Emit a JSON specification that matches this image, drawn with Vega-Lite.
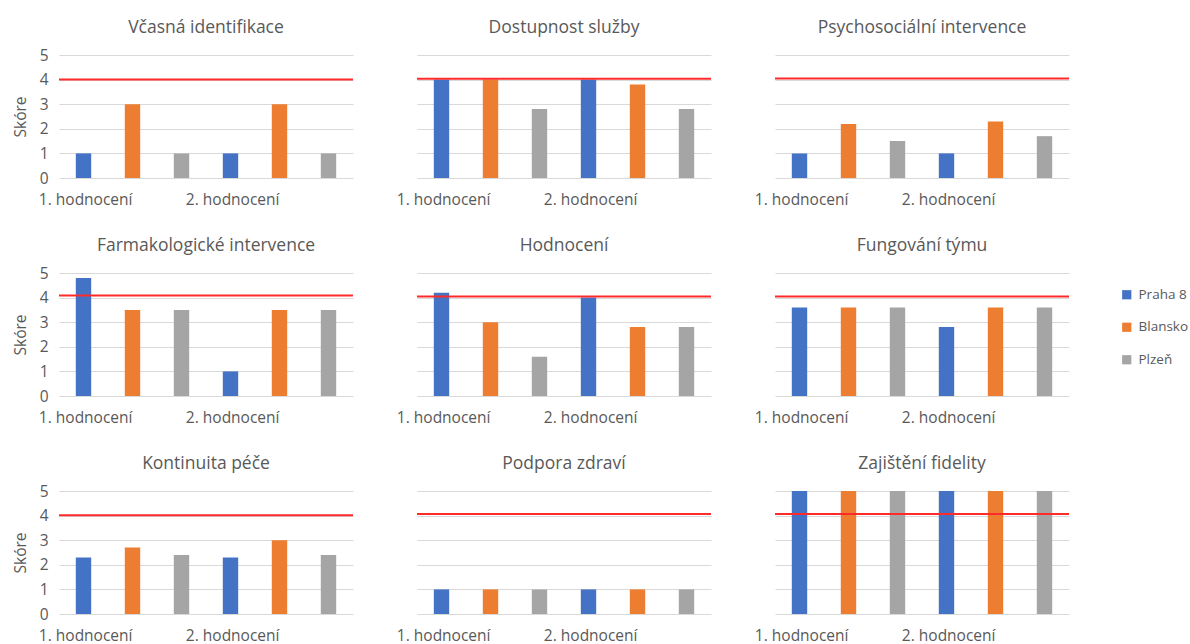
{
  "$schema": "https://vega.github.io/schema/vega-lite/v6.json",
  "background": "white",
  "padding": {"left": 13, "top": 18, "right": 5, "bottom": 5},
  "datasets": {
    "cile": [
      {"oblast": "Včasná identifikace", "cil": 4.0},
      {"oblast": "Dostupnost služby", "cil": 4.03},
      {"oblast": "Psychosociální intervence", "cil": 4.04},
      {"oblast": "Farmakologické intervence", "cil": 4.09},
      {"oblast": "Hodnocení", "cil": 4.04},
      {"oblast": "Fungování týmu", "cil": 4.04},
      {"oblast": "Kontinuita péče", "cil": 4.01},
      {"oblast": "Podpora zdraví", "cil": 4.07},
      {"oblast": "Zajištění fidelity", "cil": 4.07}
    ]
  },
  "data": {
    "values": [
      {"oblast": "Včasná identifikace", "kolo": "1. hodnocení", "mesto": "Praha 8", "skore": 1},
      {"oblast": "Včasná identifikace", "kolo": "1. hodnocení", "mesto": "Blansko", "skore": 3},
      {"oblast": "Včasná identifikace", "kolo": "1. hodnocení", "mesto": "Plzeň", "skore": 1},
      {"oblast": "Včasná identifikace", "kolo": "2. hodnocení", "mesto": "Praha 8", "skore": 1},
      {"oblast": "Včasná identifikace", "kolo": "2. hodnocení", "mesto": "Blansko", "skore": 3},
      {"oblast": "Včasná identifikace", "kolo": "2. hodnocení", "mesto": "Plzeň", "skore": 1},

      {"oblast": "Dostupnost služby", "kolo": "1. hodnocení", "mesto": "Praha 8", "skore": 4},
      {"oblast": "Dostupnost služby", "kolo": "1. hodnocení", "mesto": "Blansko", "skore": 4},
      {"oblast": "Dostupnost služby", "kolo": "1. hodnocení", "mesto": "Plzeň", "skore": 2.8},
      {"oblast": "Dostupnost služby", "kolo": "2. hodnocení", "mesto": "Praha 8", "skore": 4},
      {"oblast": "Dostupnost služby", "kolo": "2. hodnocení", "mesto": "Blansko", "skore": 3.8},
      {"oblast": "Dostupnost služby", "kolo": "2. hodnocení", "mesto": "Plzeň", "skore": 2.8},

      {"oblast": "Psychosociální intervence", "kolo": "1. hodnocení", "mesto": "Praha 8", "skore": 1},
      {"oblast": "Psychosociální intervence", "kolo": "1. hodnocení", "mesto": "Blansko", "skore": 2.2},
      {"oblast": "Psychosociální intervence", "kolo": "1. hodnocení", "mesto": "Plzeň", "skore": 1.5},
      {"oblast": "Psychosociální intervence", "kolo": "2. hodnocení", "mesto": "Praha 8", "skore": 1},
      {"oblast": "Psychosociální intervence", "kolo": "2. hodnocení", "mesto": "Blansko", "skore": 2.3},
      {"oblast": "Psychosociální intervence", "kolo": "2. hodnocení", "mesto": "Plzeň", "skore": 1.7},

      {"oblast": "Farmakologické intervence", "kolo": "1. hodnocení", "mesto": "Praha 8", "skore": 4.8},
      {"oblast": "Farmakologické intervence", "kolo": "1. hodnocení", "mesto": "Blansko", "skore": 3.5},
      {"oblast": "Farmakologické intervence", "kolo": "1. hodnocení", "mesto": "Plzeň", "skore": 3.5},
      {"oblast": "Farmakologické intervence", "kolo": "2. hodnocení", "mesto": "Praha 8", "skore": 1},
      {"oblast": "Farmakologické intervence", "kolo": "2. hodnocení", "mesto": "Blansko", "skore": 3.5},
      {"oblast": "Farmakologické intervence", "kolo": "2. hodnocení", "mesto": "Plzeň", "skore": 3.5},

      {"oblast": "Hodnocení", "kolo": "1. hodnocení", "mesto": "Praha 8", "skore": 4.2},
      {"oblast": "Hodnocení", "kolo": "1. hodnocení", "mesto": "Blansko", "skore": 3},
      {"oblast": "Hodnocení", "kolo": "1. hodnocení", "mesto": "Plzeň", "skore": 1.6},
      {"oblast": "Hodnocení", "kolo": "2. hodnocení", "mesto": "Praha 8", "skore": 4},
      {"oblast": "Hodnocení", "kolo": "2. hodnocení", "mesto": "Blansko", "skore": 2.8},
      {"oblast": "Hodnocení", "kolo": "2. hodnocení", "mesto": "Plzeň", "skore": 2.8},

      {"oblast": "Fungování týmu", "kolo": "1. hodnocení", "mesto": "Praha 8", "skore": 3.6},
      {"oblast": "Fungování týmu", "kolo": "1. hodnocení", "mesto": "Blansko", "skore": 3.6},
      {"oblast": "Fungování týmu", "kolo": "1. hodnocení", "mesto": "Plzeň", "skore": 3.6},
      {"oblast": "Fungování týmu", "kolo": "2. hodnocení", "mesto": "Praha 8", "skore": 2.8},
      {"oblast": "Fungování týmu", "kolo": "2. hodnocení", "mesto": "Blansko", "skore": 3.6},
      {"oblast": "Fungování týmu", "kolo": "2. hodnocení", "mesto": "Plzeň", "skore": 3.6},

      {"oblast": "Kontinuita péče", "kolo": "1. hodnocení", "mesto": "Praha 8", "skore": 2.3},
      {"oblast": "Kontinuita péče", "kolo": "1. hodnocení", "mesto": "Blansko", "skore": 2.7},
      {"oblast": "Kontinuita péče", "kolo": "1. hodnocení", "mesto": "Plzeň", "skore": 2.4},
      {"oblast": "Kontinuita péče", "kolo": "2. hodnocení", "mesto": "Praha 8", "skore": 2.3},
      {"oblast": "Kontinuita péče", "kolo": "2. hodnocení", "mesto": "Blansko", "skore": 3},
      {"oblast": "Kontinuita péče", "kolo": "2. hodnocení", "mesto": "Plzeň", "skore": 2.4},

      {"oblast": "Podpora zdraví", "kolo": "1. hodnocení", "mesto": "Praha 8", "skore": 1},
      {"oblast": "Podpora zdraví", "kolo": "1. hodnocení", "mesto": "Blansko", "skore": 1},
      {"oblast": "Podpora zdraví", "kolo": "1. hodnocení", "mesto": "Plzeň", "skore": 1},
      {"oblast": "Podpora zdraví", "kolo": "2. hodnocení", "mesto": "Praha 8", "skore": 1},
      {"oblast": "Podpora zdraví", "kolo": "2. hodnocení", "mesto": "Blansko", "skore": 1},
      {"oblast": "Podpora zdraví", "kolo": "2. hodnocení", "mesto": "Plzeň", "skore": 1},

      {"oblast": "Zajištění fidelity", "kolo": "1. hodnocení", "mesto": "Praha 8", "skore": 5},
      {"oblast": "Zajištění fidelity", "kolo": "1. hodnocení", "mesto": "Blansko", "skore": 5},
      {"oblast": "Zajištění fidelity", "kolo": "1. hodnocení", "mesto": "Plzeň", "skore": 5},
      {"oblast": "Zajištění fidelity", "kolo": "2. hodnocení", "mesto": "Praha 8", "skore": 5},
      {"oblast": "Zajištění fidelity", "kolo": "2. hodnocení", "mesto": "Blansko", "skore": 5},
      {"oblast": "Zajištění fidelity", "kolo": "2. hodnocení", "mesto": "Plzeň", "skore": 5}
    ]
  },
  "transform": [
    {"lookup": "oblast", "from": {"data": {"name": "cile"}, "key": "oblast", "fields": ["cil"]}}
  ],
  "facet": {
    "field": "oblast",
    "type": "nominal",
    "sort": [
      "Včasná identifikace", "Dostupnost služby", "Psychosociální intervence",
      "Farmakologické intervence", "Hodnocení", "Fungování týmu",
      "Kontinuita péče", "Podpora zdraví", "Zajištění fidelity"
    ],
    "header": {
      "title": null,
      "labelFont": "Open Sans",
      "labelFontSize": 17.5,
      "labelColor": "#595959",
      "labelPadding": 19
    }
  },
  "columns": 3,
  "spacing": {"row": 28, "column": 42},
  "resolve": {"axis": {"x": "independent"}},
  "spec": {
    "width": 294,
    "height": 123,
    "layer": [
      {
        "mark": {"type": "bar"},
        "encoding": {
          "x": {
            "field": "kolo",
            "type": "nominal",
            "scale": {"paddingInner": 0, "paddingOuter": 0},
            "axis": {
              "title": null,
              "labelAngle": 0,
              "labelAlign": "right",
              "labelPadding": 14,
              "ticks": false,
              "domain": false,
              "grid": false
            }
          },
          "xOffset": {
            "field": "mesto",
            "type": "nominal",
            "sort": ["Praha 8", "Blansko", "Plzeň"],
            "scale": {"paddingInner": 0.686, "paddingOuter": 0.343}
          },
          "y": {
            "field": "skore",
            "type": "quantitative",
            "scale": {"domain": [0, 5], "nice": false},
            "axis": {
              "title": "Skóre",
              "values": [0, 1, 2, 3, 4, 5],
              "labelOverlap": false,
              "ticks": false,
              "domain": false,
              "labelPadding": -10,
              "titlePadding": 10
            }
          },
          "color": {
            "field": "mesto",
            "type": "nominal",
            "sort": ["Praha 8", "Blansko", "Plzeň"],
            "scale": {
              "domain": ["Praha 8", "Blansko", "Plzeň"],
              "range": ["#4472C4", "#ED7D31", "#A5A5A5"]
            },
            "legend": {
              "title": null,
              "orient": "none",
              "legendX": 1061,
              "legendY": 233,
              "symbolType": "square",
              "symbolSize": 85,
              "labelFontSize": 13.5,
              "rowPadding": 17.5,
              "labelOffset": 5
            }
          }
        }
      },
      {
        "mark": {"type": "rule", "color": "#FF2B2B", "strokeWidth": 2},
        "encoding": {
          "y": {
            "field": "cil",
            "type": "quantitative",
            "aggregate": "max",
            "axis": {
              "title": "Skóre",
              "values": [0, 1, 2, 3, 4, 5],
              "labelOverlap": false,
              "ticks": false,
              "domain": false,
              "labelPadding": -10,
              "titlePadding": 10
            }
          }
        }
      }
    ]
  },
  "config": {
    "font": "Open Sans",
    "view": {"stroke": null},
    "axis": {
      "labelFont": "Open Sans",
      "labelFontSize": 15.5,
      "labelColor": "#595959",
      "titleFont": "Open Sans",
      "titleFontSize": 15.5,
      "titleFontWeight": "normal",
      "titleColor": "#595959",
      "gridColor": "#D9D9D9",
      "gridWidth": 1
    },
    "legend": {
      "labelFont": "Open Sans",
      "labelColor": "#595959"
    }
  }
}
